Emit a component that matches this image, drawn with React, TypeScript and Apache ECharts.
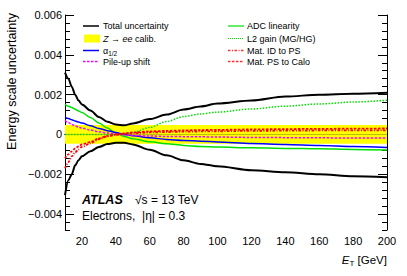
import React, { useEffect, useRef } from "react";
import * as echarts from "echarts";

// E_T grid (GeV)
const energy = [10, 12, 14, 16, 18, 20, 25, 30, 35, 40, 45, 50, 60, 70, 80, 90, 100, 120, 140, 160, 180, 200];

const totalUp = [0.0031, 0.0028, 0.0024, 0.002, 0.0017, 0.0015, 0.0012, 0.00088, 0.00064, 0.0005, 0.00046, 0.00055, 0.00077, 0.001, 0.00125, 0.0014, 0.00155, 0.0017, 0.0019, 0.002, 0.00205, 0.0021];
const totalDown = [-0.00305, -0.0023, -0.002, -0.00155, -0.0013, -0.0011, -0.00085, -0.00063, -0.00048, -0.00042, -0.00042, -0.0005, -0.00077, -0.00105, -0.0013, -0.00148, -0.0016, -0.0018, -0.0019, -0.002, -0.0021, -0.00215];
const zeeUp = [0.00047, 0.00047, 0.00047, 0.00047, 0.00047, 0.00047, 0.00047, 0.00047, 0.00047, 0.00047, 0.00047, 0.00047, 0.00047, 0.00047, 0.00047, 0.00047, 0.00047, 0.00047, 0.00047, 0.00047, 0.00047, 0.00047];
const zeeDown = [-0.00047, -0.00047, -0.00047, -0.00047, -0.00047, -0.00047, -0.00047, -0.00047, -0.00047, -0.00047, -0.00047, -0.00047, -0.00047, -0.00047, -0.00047, -0.00047, -0.00047, -0.00047, -0.00047, -0.00047, -0.00047, -0.00047];
const alpha12 = [0.00085, 0.0008, 0.00074, 0.00068, 0.00062, 0.00057, 0.00044, 0.0003, 0.00019, 0.0001, 0.0, -0.00007, -0.00017, -0.00025, -0.0003, -0.00034, -0.00038, -0.00045, -0.0005, -0.00055, -0.0006, -0.00065];
const pileUp = [0.0007, 0.0006, 0.0005, 0.00043, 0.00037, 0.00032, 0.00022, 0.00013, 0.00007, 0.00002, -0.00002, -0.00005, -0.00008, -0.0001, -0.00011, -0.00012, -0.00013, -0.00015, -0.00016, -0.00017, -0.00018, -0.00018];
const adcLin = [0.0015, 0.00142, 0.00135, 0.00127, 0.00118, 0.0011, 0.00085, 0.00058, 0.00032, 0.00008, -0.0001, -0.00022, -0.00037, -0.00047, -0.00055, -0.0006, -0.00063, -0.00067, -0.0007, -0.00072, -0.00075, -0.00078];
const l2Gain = [0, 0, 0, 0, 0, 0, 0, 0, 0, 0, 0.00003, 0.0001, 0.00035, 0.00065, 0.0009, 0.00103, 0.00112, 0.00128, 0.00142, 0.00153, 0.00163, 0.00172];
const matIDtoPS = [-0.0017, -0.0014, -0.0011, -0.0009, -0.00075, -0.00062, -0.00045, -0.00024, -0.0001, -0.00002, 0.00003, 0.00006, 0.0001, 0.00012, 0.00014, 0.00015, 0.00016, 0.00018, 0.00019, 0.0002, 0.0002, 0.00021];
const matPStoCalo = [-0.0012, -0.001, -0.00085, -0.0007, -0.0006, -0.0005, -0.00038, -0.0002, -0.00007, 0.0, 0.00005, 0.0001, 0.00015, 0.00018, 0.0002, 0.00022, 0.00023, 0.00025, 0.00027, 0.00028, 0.00029, 0.0003];

const xMajorTicks = [20, 40, 60, 80, 100, 120, 140, 160, 180, 200];
const yMajorTicks = [-0.004, -0.002, 0, 0.002, 0.004, 0.006];

const FONT = "'Liberation Sans', Arial, Helvetica, sans-serif";
const pairs = (ys: number[]) => energy.map((e, i) => [e, ys[i]]);

export default function App() {
  const ref = useRef<HTMLDivElement>(null);
  useEffect(() => {
    if (!ref.current) return;
    const chart = echarts.init(ref.current, undefined, { renderer: "svg" });
    const grid = { left: 65, right: 20, top: 15, bottom: 46 };
    const xBase = { type: "value", min: 10, max: 200, splitLine: { show: false } };
    const yBase = { type: "value", min: -0.0048, max: 0.006, splitLine: { show: false } };
    const axLine = { show: true, lineStyle: { color: "#000", width: 1 } };
    const fmtY = (v: number) => (Math.abs(v) < 1e-12 ? "0" : v.toFixed(3).replace("-", "\u2212"));
    const line = (name: string, ys: number[], color: string, width: number, type: any) => ({
      name,
      type: "line",
      data: pairs(ys),
      showSymbol: false,
      smooth: 0.3,
      smoothMonotone: "x",
      lineStyle: { color, width, type },
      z: 3,
    });
    const legendLine = (x: number, y: number, color: string, width: number, dash?: number[]) => ({
      type: "line",
      shape: { x1: x, y1: y, x2: x + 16, y2: y },
      style: { stroke: color, lineWidth: width, lineDash: dash },
    });
    const legendText = (x: number, y: number, text: string, rich?: any) => ({
      type: "text",
      x,
      y,
      style: { text, fontSize: 9, fontFamily: FONT, fill: "#000", verticalAlign: "middle", rich },
    });
    const rows = [26, 38.5, 50.5, 61.5];
    const option: any = {
      animation: false,
      grid,
      xAxis: [
        { ...xBase, position: "bottom", interval: 5, axisLine: axLine, axisTick: { inside: true, length: 4, lineStyle: { color: "#000" } }, axisLabel: { show: false } },
        {
          ...xBase, position: "bottom", offset: 0, axisLine: { show: false },
          axisTick: { inside: true, length: 8, customValues: xMajorTicks, lineStyle: { color: "#000" } },
          axisLabel: { customValues: xMajorTicks, fontSize: 11, fontFamily: FONT, color: "#000", margin: 5 },
        },
        { ...xBase, position: "top", interval: 5, axisLine: axLine, axisTick: { inside: true, length: 4, lineStyle: { color: "#000" } }, axisLabel: { show: false } },
        { ...xBase, position: "top", offset: 0, axisLine: { show: false }, axisTick: { inside: true, length: 8, customValues: xMajorTicks, lineStyle: { color: "#000" } }, axisLabel: { show: false } },
      ],
      yAxis: [
        { ...yBase, position: "left", interval: 0.0004, axisLine: axLine, axisTick: { inside: true, length: 5, lineStyle: { color: "#000" } }, axisLabel: { show: false } },
        {
          ...yBase, position: "left", offset: 0, axisLine: { show: false },
          axisTick: { inside: true, length: 9, customValues: yMajorTicks, lineStyle: { color: "#000" } },
          axisLabel: { customValues: yMajorTicks, formatter: fmtY, fontSize: 11, fontFamily: FONT, color: "#000", margin: 3 },
        },
        { ...yBase, position: "right", interval: 0.0004, axisLine: axLine, axisTick: { inside: true, length: 5, lineStyle: { color: "#000" } }, axisLabel: { show: false } },
        { ...yBase, position: "right", offset: 0, axisLine: { show: false }, axisTick: { inside: true, length: 9, customValues: yMajorTicks, lineStyle: { color: "#000" } }, axisLabel: { show: false } },
      ],
      series: [
        { name: "Zee up", type: "line", data: pairs(zeeUp), showSymbol: false, lineStyle: { width: 0 }, areaStyle: { color: "#ffff00", opacity: 1, origin: 0 }, z: 1 },
        { name: "Zee down", type: "line", data: pairs(zeeDown), showSymbol: false, lineStyle: { width: 0 }, areaStyle: { color: "#ffff00", opacity: 1, origin: 0 }, z: 1 },
        line("L2 gain (MG/HG)", l2Gain, "#00e000", 1.5, [1.5, 1.5]),
        line("ADC linearity", adcLin, "#00e000", 1.5, "solid"),
        line("α1/2", alpha12, "#0000ff", 1.5, "solid"),
        line("Pile-up shift", pileUp, "#ff00ff", 1.5, [2.5, 1.5]),
        line("Mat. ID to PS", matIDtoPS, "#ff0000", 1.8, [2.5, 1.5, 1, 1.5]),
        line("Mat. PS to Calo", matPStoCalo, "#ff0000", 1.8, [2.5, 1.5]),
        { ...line("Total uncertainty up", totalUp, "#000", 2, "solid"), z: 4 },
        { ...line("Total uncertainty down", totalDown, "#000", 2, "solid"), z: 4 },
      ],
      graphic: [
        // left legend column
        legendLine(83, rows[0], "#000", 1.5),
        legendText(103, rows[0], "Total uncertainty"),
        { type: "rect", shape: { x: 84, y: rows[1] - 4, width: 16, height: 8 }, style: { fill: "#ffff00" } },
        legendText(103, rows[1], "{i|Z} \u2192 {i|ee} calib.", { i: { fontStyle: "italic", fontSize: 9, fontFamily: FONT } }),
        legendLine(83, rows[2], "#0000ff", 1.5),
        legendText(103, rows[2], "{n|\u03b1}{s|1/2}", { n: { fontSize: 9, fontFamily: FONT }, s: { fontSize: 6.5, fontFamily: FONT, padding: [6, 0, 0, 0] } }),
        legendLine(83, rows[3], "#ff00ff", 1.5, [2.5, 1.5]),
        legendText(103, rows[3], "Pile-up shift"),
        // right legend column
        legendLine(228, rows[0], "#00e000", 1.2),
        legendText(247, rows[0], "ADC linearity"),
        legendLine(228, rows[1], "#00e000", 1.2, [1, 1]),
        legendText(247, rows[1], "L2 gain (MG/HG)"),
        legendLine(228, rows[2], "#ff3030", 1.5, [2.5, 1.5, 1, 1.5]),
        legendText(247, rows[2], "Mat. ID to PS"),
        legendLine(228, rows[3], "#ff3030", 1.5, [2.5, 1.5]),
        legendText(247, rows[3], "Mat. PS to Calo"),
        // ATLAS label
        { type: "text", x: 82, y: 200, style: { text: "ATLAS", fontSize: 12.5, fontWeight: "bold", fontStyle: "italic", fontFamily: FONT, fill: "#000", verticalAlign: "middle" } },
        { type: "text", x: 135, y: 200, style: { text: "\u221as = 13 TeV", fontSize: 12, fontFamily: FONT, fill: "#000", verticalAlign: "middle" } },
        { type: "text", x: 82, y: 216, style: { text: "Electrons,  |\u03b7| = 0.3", fontSize: 12, fontFamily: FONT, fill: "#000", verticalAlign: "middle" } },
        // axis titles
        {
          type: "text", x: 12, y: 13, rotation: Math.PI / 2,
          style: { text: "Energy scale uncertainty", fontSize: 12.5, fontFamily: FONT, fill: "#000", align: "right", verticalAlign: "middle" },
        },
        {
          type: "text", x: 387, y: 260,
          style: {
            text: "{i|E}{s|T} [GeV]", fontSize: 11.5, fontFamily: FONT, fill: "#000", align: "right", verticalAlign: "middle",
            rich: { i: { fontStyle: "italic", fontSize: 11.5, fontFamily: FONT }, s: { fontSize: 8, fontFamily: FONT, padding: [6, 0, 0, 0] } },
          },
        },
      ],
    };
    chart.setOption(option);
    return () => chart.dispose();
  }, []);
  return <div ref={ref} style={{ position: "fixed", left: 0, top: 0, width: 407, height: 276, background: "#fff" }} />;
}
